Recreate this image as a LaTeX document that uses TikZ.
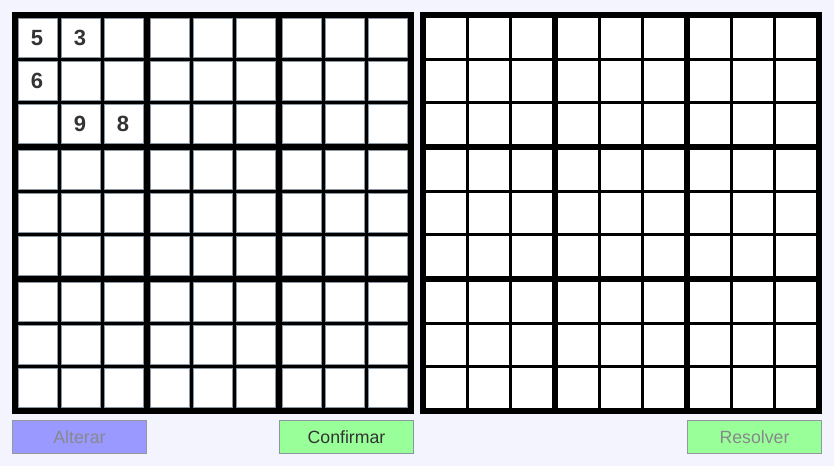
\documentclass[tikz,border=0pt]{standalone}
\usepackage{fontspec}
\setmainfont{Liberation Sans}
\definecolor{pagebg}{RGB}{244,244,254}
\definecolor{altblue}{RGB}{153,153,255}
\definecolor{okgreen}{RGB}{153,255,153}
\definecolor{cellrim}{RGB}{138,150,162}
\definecolor{btnrim}{RGB}{150,150,158}
\definecolor{ink}{RGB}{51,51,51}
\definecolor{dimink}{RGB}{136,136,140}
\tikzset{
  cell/.style={draw=cellrim,line width=1pt,fill=white,minimum size=39pt,
    inner sep=0pt,outer sep=0pt,anchor=north west},
  blank/.style={fill=white,minimum size=40pt,inner sep=0pt,outer sep=0pt,
    anchor=north west},
  digit/.style={text=ink,xshift=-1pt,font=\fontsize{22}{26}\selectfont\bfseries},
  button/.style={draw,line width=1pt,minimum width=134pt,minimum height=33pt,
    inner sep=0pt,font=\fontsize{17.7}{21}\selectfont}
}
\begin{document}
\begin{tikzpicture}[x=1pt,y=-1pt]
    \useasboundingbox (0,0) rectangle (834,466);
    \fill[pagebg] (0,0) rectangle (834,466);
    % the two boards
    \fill[black] (12,12) rectangle (414,414);
    \fill[black] (420,12) rectangle (822,414);
    \foreach \r in {0,...,8} {
      \foreach \c in {0,...,8} {
        \pgfmathsetmacro{\x}{18+43*\c+3*floor(\c/3)};
        \pgfmathsetmacro{\y}{18+43*\r+3*floor(\r/3)};
        \node[cell] (L\r\c) at (\x+0.5,\y+0.5) {};
        \node[blank] (R\r\c) at (\x+408,\y) {};
      }
    }
    % given digits
    \node[digit] (d5) at (L00) {5};
    \node[digit] (d3) at (L01) {3};
    \node[digit] (d6) at (L10) {6};
    \node[digit] (d9) at (L21) {9};
    \node[digit] (d8) at (L22) {8};
    % buttons
    \node[button,fill=altblue,draw=btnrim,text=dimink] (alterar) at (79.5,437) {Alterar};
    \node[button,fill=okgreen,draw=cellrim,text=ink] (confirmar) at (346.5,437) {Confirmar};
    \node[button,fill=okgreen,draw=btnrim,text=dimink] (resolver) at (754.5,437) {Resolver};
\end{tikzpicture}
\end{document}
